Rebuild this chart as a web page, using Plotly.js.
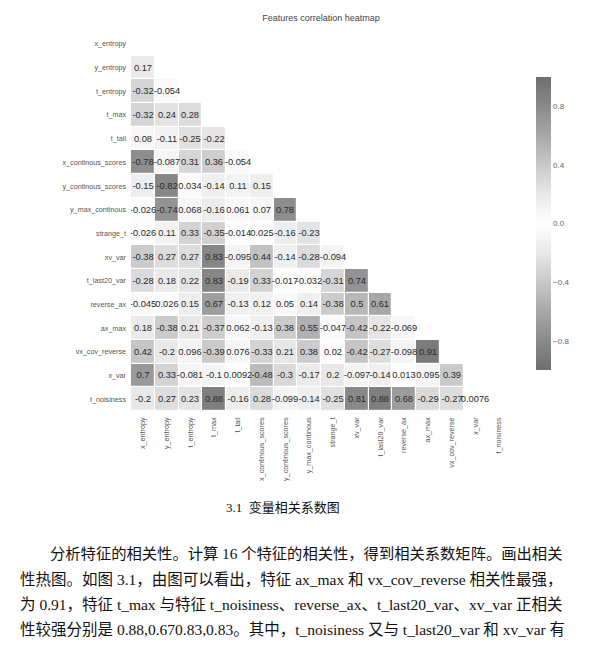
<!DOCTYPE html>
<html>
<head>
<meta charset="utf-8">
<script src="https://cdn.plot.ly/plotly-3.0.1.min.js"></script>
<style>html,body{margin:0;padding:0;background:#fff;}#chart{width:612px;height:647px;}</style>
</head>
<body>
<div id="chart"></div>
<script>
// Feature names (rows top->bottom, columns left->right)
const features = ["x_entropy","y_entropy","t_entropy","t_max","t_tail","x_continous_scores","y_continous_scores","y_max_continous","strange_t","xv_var","t_last20_var","reverse_ax","ax_max","vx_cov_reverse","x_var","t_noisiness"];

// Lower-triangle correlation values, one array per row (columns from x_entropy onward)
const row_x_entropy = [];
const row_y_entropy = [0.17];
const row_t_entropy = [-0.32, -0.054];
const row_t_max = [-0.32, 0.24, 0.28];
const row_t_tail = [0.08, -0.11, -0.25, -0.22];
const row_x_continous_scores = [-0.78, -0.087, 0.31, 0.36, -0.054];
const row_y_continous_scores = [-0.15, -0.82, 0.034, -0.14, 0.11, 0.15];
const row_y_max_continous = [-0.026, -0.74, 0.068, -0.16, 0.061, 0.07, 0.78];
const row_strange_t = [-0.026, 0.11, 0.33, -0.35, -0.014, 0.025, -0.16, -0.23];
const row_xv_var = [-0.38, 0.27, 0.27, 0.83, -0.095, 0.44, -0.14, -0.28, -0.094];
const row_t_last20_var = [-0.28, 0.18, 0.22, 0.83, -0.19, 0.33, -0.017, -0.032, -0.31, 0.74];
const row_reverse_ax = [-0.045, 0.026, 0.15, 0.67, -0.13, 0.12, 0.05, 0.14, -0.38, 0.5, 0.61];
const row_ax_max = [0.18, -0.38, 0.21, -0.37, 0.062, -0.13, 0.38, 0.55, -0.047, -0.42, -0.22, -0.069];
const row_vx_cov_reverse = [0.42, -0.2, 0.096, -0.39, 0.076, -0.33, 0.21, 0.38, 0.02, -0.42, -0.27, -0.098, 0.91];
const row_x_var = [0.7, 0.33, -0.081, -0.1, 0.0092, -0.48, -0.3, -0.17, 0.2, -0.097, -0.14, 0.013, 0.095, 0.39];
const row_t_noisiness = [-0.2, 0.27, 0.23, 0.88, -0.16, 0.28, -0.099, -0.14, -0.25, 0.81, 0.88, 0.68, -0.29, -0.27, 0.0076];

const rows = [row_x_entropy,row_y_entropy,row_t_entropy,row_t_max,row_t_tail,row_x_continous_scores,row_y_continous_scores,row_y_max_continous,row_strange_t,row_xv_var,row_t_last20_var,row_reverse_ax,row_ax_max,row_vx_cov_reverse,row_x_var,row_t_noisiness];

const colorbarTicks = [-0.8, -0.4, 0.0, 0.4, 0.8];
const colorbarTickText = ["\u22120.8","\u22120.4","0.0","0.4","0.8"];

const chartTitle = "Features correlation heatmap";
const caption = "3.1  变量相关系数图";
const paragraph = [
  "分析特征的相关性。计算 16 个特征的相关性，得到相关系数矩阵。画出相关",
  "性热图。如图 3.1，由图可以看出，特征 ax_max 和 vx_cov_reverse 相关性最强，",
  "为 0.91，特征 t_max 与特征 t_noisiness、reverse_ax、t_last20_var、xv_var 正相关",
  "性较强分别是 0.88,0.670.83,0.83。其中，t_noisiness 又与 t_last20_var 和 xv_var 有"
];

// build matrix
const n = features.length;
const z = [], txt = [];
for (let i = 0; i < n; i++) {
  const zr = [], tr = [];
  for (let j = 0; j < n; j++) {
    if (j < rows[i].length) { zr.push(rows[i][j]); tr.push(String(rows[i][j])); }
    else { zr.push(null); tr.push(""); }
  }
  z.push(zr); txt.push(tr);
}

// pixel helpers for the plot area
const W = 612, H = 647;
const L = 131, R = 511, T = 32, B = 411;
const px = x => (x - L) / (R - L);
const py = y => (B - y) / (B - T);

// symmetric grey diverging scale (white at 0)
const greyStops = [[0,'#6e6e6e'],[0.1,'#8a8a8a'],[0.2,'#a8a8a8'],[0.3,'#c8c8c8'],[0.4,'#e8e8e8'],[0.5,'#ffffff'],
                   [0.6,'#e8e8e8'],[0.7,'#c8c8c8'],[0.8,'#a8a8a8'],[0.9,'#8a8a8a'],[1,'#6e6e6e']];

const trace = {
  type: 'heatmap',
  x: features, y: features, z: z,
  text: txt, texttemplate: '%{text}',
  textfont: {family: 'Liberation Sans, Arial, sans-serif', size: 9.3, color: '#2a2a2a'},
  zmin: -1, zmax: 1,
  colorscale: greyStops,
  xgap: 1.2, ygap: 1.2,
  hoverongaps: false,
  colorbar: {
    x: px(536), xanchor: 'left', xref: 'paper',
    y: py(223.5), yanchor: 'middle',
    len: 293, lenmode: 'pixels',
    thickness: 15, thicknessmode: 'pixels',
    outlinewidth: 0,
    tickvals: colorbarTicks, ticktext: colorbarTickText,
    ticks: '', ticklen: 0,
    tickfont: {family: 'Liberation Sans, Arial, sans-serif', size: 8, color: '#666666'},
    xpad: 0, ypad: 0
  }
};

const serif = 'Liberation Serif, Noto Sans CJK SC, serif';
const annotations = [];
annotations.push({xref:'paper', yref:'paper', x: px(283), y: py(507), xanchor:'center', yanchor:'middle', text: caption, showarrow:false, font:{family: serif, size: 13, color:'#111'}});
const lineY = [553, 579, 604, 629];
const lineX = [48, 18, 18, 18];
const lineSize = [15.3, 15.5, 15.5, 15.5];
for (let k = 0; k < paragraph.length; k++) {
  annotations.push({xref:'paper', yref:'paper', x: px(lineX[k]), y: py(lineY[k]), xanchor:'left', yanchor:'middle', text: paragraph[k], showarrow:false, font:{family: serif, size: lineSize[k], color:'#111'}});
}

const layout = {
  width: W, height: H,
  margin: {l: L, r: W - R, t: T, b: H - B, pad: 0},
  paper_bgcolor: '#ffffff', plot_bgcolor: '#ffffff',
  title: {text: chartTitle, xref: 'paper', x: 0.5, xanchor: 'center', yref: 'container', y: 1 - 18 / H, yanchor: 'middle',
          font: {family: 'Liberation Sans, Arial, sans-serif', size: 9, color: '#444444'}},
  xaxis: {type: 'category', tickangle: -90, showgrid: false, zeroline: false, showline: false, ticks: '',
          tickfont: {family: 'Liberation Sans, Arial, sans-serif', size: 7.2, color: '#555555'}, ticklabelstandoff: 4},
  yaxis: {type: 'category', autorange: 'reversed', showgrid: false, zeroline: false, showline: false, ticks: '',
          tickfont: {family: 'Liberation Sans, Arial, sans-serif', size: 7.2, color: '#555555'}, ticklabelstandoff: 4},
  annotations: annotations,
  showlegend: false
};

Plotly.newPlot('chart', [trace], layout, {displayModeBar: false, staticPlot: true});
</script>
</body>
</html>
